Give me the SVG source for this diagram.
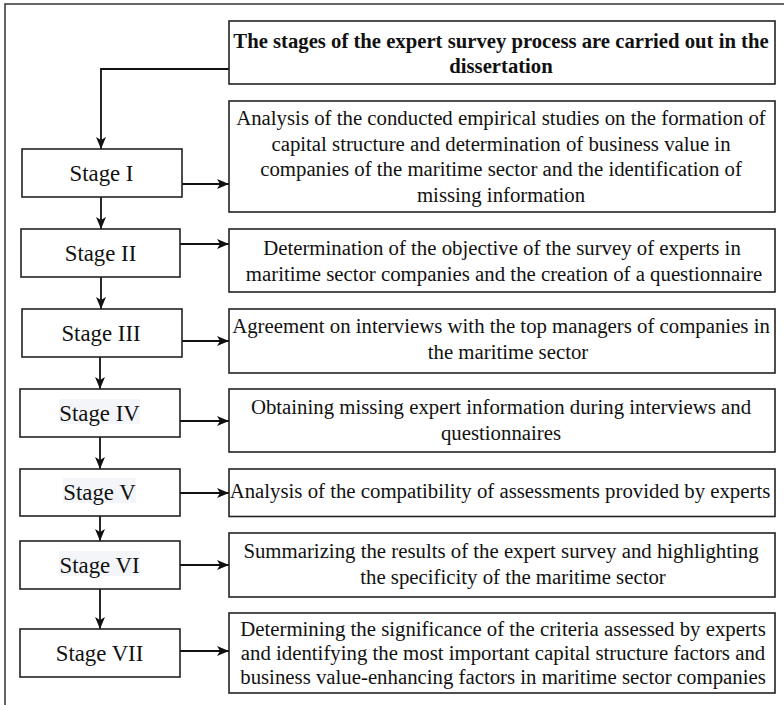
<svg xmlns="http://www.w3.org/2000/svg" width="784" height="705" viewBox="0 0 784 705">
  <style>
    .box { fill: #ffffff; stroke: #222222; stroke-width: 1.6; }
    .frame { fill: none; stroke: #333333; stroke-width: 1.5; }
    .wire { fill: none; stroke: #111111; stroke-width: 1.8; }
    .stage { font-family: "Liberation Serif", "Times New Roman", serif; font-size: 22.8px; fill: #111111; text-anchor: middle; }
    .desc { font-family: "Liberation Serif", "Times New Roman", serif; font-size: 20.8px; fill: #111111; text-anchor: middle; }
    .title { font-family: "Liberation Serif", "Times New Roman", serif; font-size: 20.7px; font-weight: bold; fill: #111111; text-anchor: middle; }
    .hl { fill: #f3f5f8; }
  </style>
  <defs>
    <marker id="arrow" viewBox="0 0 12 10" refX="12" refY="5" markerWidth="12" markerHeight="10" markerUnits="userSpaceOnUse" orient="auto">
      <path d="M0,0 L12,5 L0,10 L3,5 Z" fill="#111111"/>
    </marker>
  </defs>

  <rect width="784" height="705" fill="#ffffff"/>
  <!-- outer frame, open to the right and bottom -->
  <rect class="frame" x="5" y="4" width="820" height="740"/>

  <g id="connectors">
    <path class="wire" d="M229,69 H101 V149" marker-end="url(#arrow)"/>
    <path class="wire" d="M182,184 H229" marker-end="url(#arrow)"/>
    <path class="wire" d="M101,197 V229" marker-end="url(#arrow)"/>
    <path class="wire" d="M180,244 H229" marker-end="url(#arrow)"/>
    <path class="wire" d="M101,277 V309" marker-end="url(#arrow)"/>
    <path class="wire" d="M182,341 H229" marker-end="url(#arrow)"/>
    <path class="wire" d="M100,357 V389" marker-end="url(#arrow)"/>
    <path class="wire" d="M180,421 H229" marker-end="url(#arrow)"/>
    <path class="wire" d="M100,437 V469" marker-end="url(#arrow)"/>
    <path class="wire" d="M180,493 H229" marker-end="url(#arrow)"/>
    <path class="wire" d="M100,516 V541" marker-end="url(#arrow)"/>
    <path class="wire" d="M180,565 H229" marker-end="url(#arrow)"/>
    <path class="wire" d="M100,589 V629" marker-end="url(#arrow)"/>
    <path class="wire" d="M180,651 H229" marker-end="url(#arrow)"/>
  </g>

  <g id="title">
    <rect class="box" x="229" y="21" width="546" height="63"/>
    <text class="title" x="501" y="47.5">The stages of the expert survey process are carried out in the</text>
    <text class="title" x="501" y="72.5">dissertation</text>
  </g>

  <g id="stage-1">
    <rect class="box" x="22" y="149" width="160" height="48"/>
    <text class="stage" x="101.5" y="180.5">Stage I</text>
  </g>
  <g id="desc-1">
    <rect class="box" x="229" y="101" width="546" height="111"/>
    <text class="desc" x="501" y="125">Analysis of the conducted empirical studies on the formation of</text>
    <text class="desc" x="501" y="150.7">capital structure and determination of business value in</text>
    <text class="desc" x="501" y="176.4">companies of the maritime sector and the identification of</text>
    <text class="desc" x="501" y="202">missing information</text>
  </g>

  <g id="stage-2">
    <rect class="box" x="21" y="229" width="159" height="48"/>
    <text class="stage" x="100.5" y="260.5">Stage II</text>
  </g>
  <g id="desc-2">
    <rect class="box" x="229" y="229" width="546" height="63"/>
    <text class="desc" x="502" y="255">Determination of the objective of the survey of experts in</text>
    <text class="desc" x="504" y="280.5">maritime sector companies and the creation of a questionnaire</text>
  </g>

  <g id="stage-3">
    <rect class="box" x="22" y="309" width="160" height="48"/>
    <text class="stage" x="101" y="340.5">Stage III</text>
  </g>
  <g id="desc-3">
    <rect class="box" x="229" y="309" width="546" height="64"/>
    <text class="desc" x="501" y="333">Agreement on interviews with the top managers of companies in</text>
    <text class="desc" x="508" y="358.5">the maritime sector</text>
  </g>

  <g id="stage-4">
    <rect class="box" x="20" y="389" width="160" height="48"/>
    <rect class="hl" x="59" y="399" width="81" height="25"/>
    <text class="stage" x="99.5" y="420.5">Stage IV</text>
  </g>
  <g id="desc-4">
    <rect class="box" x="229" y="389" width="546" height="63"/>
    <text class="desc" x="501" y="414">Obtaining missing expert information during interviews and</text>
    <text class="desc" x="501" y="440">questionnaires</text>
  </g>

  <g id="stage-5">
    <rect class="box" x="20" y="469" width="160" height="47"/>
    <rect class="hl" x="63" y="478" width="73" height="25"/>
    <text class="stage" x="99.5" y="499.5">Stage V</text>
  </g>
  <g id="desc-5">
    <rect class="box" x="229" y="469" width="546" height="47.5"/>
    <text class="desc" x="500" y="498">Analysis of the compatibility of assessments provided by experts</text>
  </g>

  <g id="stage-6">
    <rect class="box" x="20" y="541" width="160" height="48"/>
    <rect class="hl" x="59" y="551" width="81" height="25"/>
    <text class="stage" x="99.5" y="572.5">Stage VI</text>
  </g>
  <g id="desc-6">
    <rect class="box" x="229" y="533" width="546" height="64"/>
    <text class="desc" x="501" y="558">Summarizing the results of the expert survey and highlighting</text>
    <text class="desc" x="513" y="583.5">the specificity of the maritime sector</text>
  </g>

  <g id="stage-7">
    <rect class="box" x="20" y="629" width="160" height="48"/>
    <text class="stage" x="99.5" y="660.5">Stage VII</text>
  </g>
  <g id="desc-7">
    <rect class="box" x="229" y="613" width="546" height="80"/>
    <text class="desc" x="503" y="636">Determining the significance of the criteria assessed by experts</text>
    <text class="desc" x="503" y="660">and identifying the most important capital structure factors and</text>
    <text class="desc" x="503" y="684">business value-enhancing factors in maritime sector companies</text>
  </g>
</svg>
